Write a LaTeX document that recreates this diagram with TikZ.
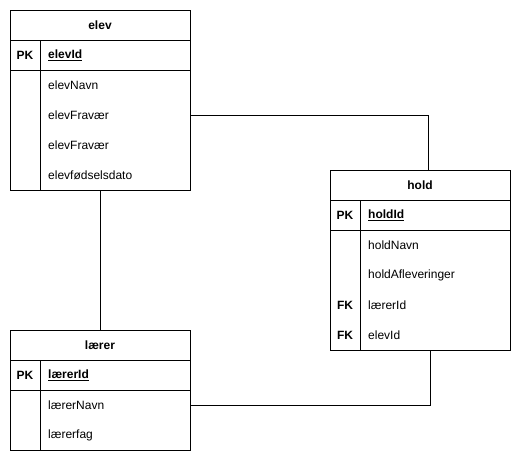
\documentclass[tikz,border=0pt]{standalone}
\usepackage{fontspec}
\setmainfont{Liberation Sans}
\begin{document}
\begin{tikzpicture}[x=1pt,y=-1pt,
  tbl/.style={draw=black, line width=1pt, fill=white, minimum width=180pt, anchor=north west, inner sep=0pt},
  ttl/.style={font=\fontsize{12}{14}\selectfont\bfseries, inner sep=0pt},
  keylbl/.style={font=\fontsize{12}{14}\selectfont\bfseries, inner sep=0pt},
  fld/.style={font=\fontsize{12}{14}\selectfont, anchor=west, inner sep=0pt},
  sep/.style={line width=1pt, draw=black},
  conn/.style={line width=1pt, draw=black}
]
\useasboundingbox (0,0) rectangle (521,461);
% elev
\node[tbl, minimum height=180pt] (elev) at (10,10) {};
\node[ttl] (elevT) at (100,25) {elev};
\draw[sep] (10,40) -- (190,40);
\draw[sep] (10,70) -- (190,70);
\draw[sep] (40,40) -- (40,190);
\node[keylbl] (elevPK) at (25,55) {PK};
\node[fld, font=\fontsize{12}{14}\selectfont\bfseries] (elevId) at (48,55) {\underline{elevId}};
\node[fld] (elevNavn) at (48,85) {elevNavn};
\node[fld] (elevF1) at (48,115) {elevFravær};
\node[fld] (elevF2) at (48,145) {elevFravær};
\node[fld] (elevDato) at (48,175) {elevfødselsdato};
% hold
\node[tbl, minimum height=180pt] (hold) at (330,170) {};
\node[ttl] (holdT) at (420,185) {hold};
\draw[sep] (330,200) -- (510,200);
\draw[sep] (330,230) -- (510,230);
\draw[sep] (360,200) -- (360,350);
\node[keylbl] (holdPK) at (345,215) {PK};
\node[fld, font=\fontsize{12}{14}\selectfont\bfseries] (holdId) at (368,215) {\underline{holdId}};
\node[fld] (holdNavn) at (368,245) {holdNavn};
\node[fld] (holdAfl) at (368,275) {holdAfleveringer};
\node[keylbl] (holdFK1) at (345,305) {FK};
\node[fld] (holdLId) at (368,305) {lærerId};
\node[keylbl] (holdFK2) at (345,335) {FK};
\node[fld] (holdEId) at (368,335) {elevId};
% laerer
\node[tbl, minimum height=120pt] (laerer) at (10,330) {};
\node[ttl] (laererT) at (100,345) {lærer};
\draw[sep] (10,360) -- (190,360);
\draw[sep] (10,390) -- (190,390);
\draw[sep] (40,360) -- (40,450);
\node[keylbl] (laererPK) at (25,375) {PK};
\node[fld, font=\fontsize{12}{14}\selectfont\bfseries] (laererId) at (48,375) {\underline{lærerId}};
\node[fld] (laererNavn) at (48,405) {lærerNavn};
\node[fld] (laererFag) at (48,435) {lærerfag};
% connectors
\coordinate (holdTop) at ([xshift=8pt]hold.north);
\coordinate (holdBot) at ([xshift=10pt]hold.south);
\draw[conn] (elev.east |- elevF1.west) -| (holdTop);
\draw[conn] (elev.south) -- (laerer.north);
\draw[conn] (holdBot) |- (laerer.east |- laererNavn.west);
\end{tikzpicture}
\end{document}
